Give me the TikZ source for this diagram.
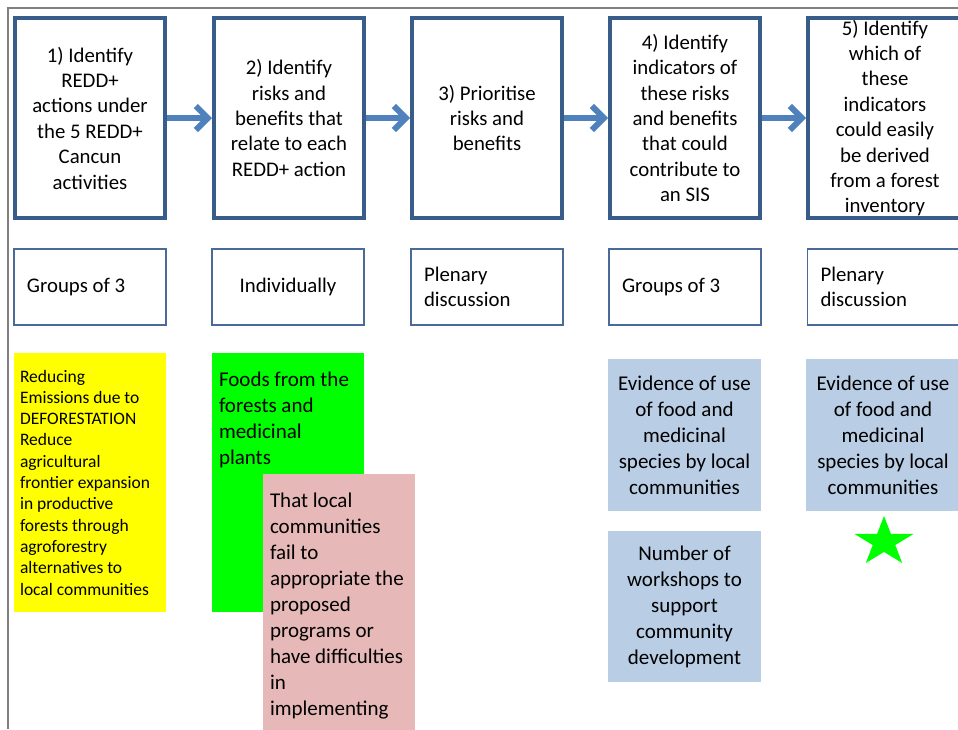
\documentclass[tikz,border=0pt]{standalone}
\usepackage{fontspec}
\setmainfont{Carlito}
\newcommand*{\bodyfont}{\fontsize{20.8}{25.4}\selectfont}
\newcommand*{\cardfont}{\fontsize{21}{26}\selectfont}
\newcommand*{\smallfont}{\fontsize{17.5}{21.3}\selectfont}
\definecolor{B}{HTML}{385D8A}
\definecolor{L}{HTML}{4F81BD}
\definecolor{M}{HTML}{4A6A9C}
\definecolor{F}{HTML}{808080}
\definecolor{Y}{HTML}{FFFF00}
\definecolor{G}{HTML}{00FF00}
\definecolor{P}{HTML}{E6B9B8}
\definecolor{S}{HTML}{B9CDE5}
\usetikzlibrary{arrows.meta}
\usetikzlibrary{positioning}
\tikzstyle{base}=[x=1pt, y=-1pt]
\tikzstyle{stage}=[draw=B, line width=4pt, minimum width=150pt, minimum height=200pt, inner sep=0pt, align=center, font=\bodyfont]
\tikzstyle{mode}=[draw=M, line width=1.2pt, minimum width=152pt, minimum height=76pt, inner xsep=13pt, text width=126pt, align=flush left, font=\bodyfont]
\tikzstyle{card}=[minimum width=152pt, minimum height=259pt, inner sep=7pt, font=\cardfont]
\tikzstyle{ind}=[fill=S, minimum width=153pt, minimum height=152pt, align=center, font=\cardfont]
\tikzstyle{flow}=[L, line width=6pt, -{Straight Barb[length=12pt,width=24pt]}]

\begin{document}
\begin{tikzpicture}[base]
    \useasboundingbox (0,0) rectangle (958,729);
    \draw [F, line width=1.5pt] (8,729) -- (8,8) -- (960,8);

    \node [stage] (s1) at (90,118) {1) Identify\\REDD+\\actions under\\the 5 REDD+\\Cancun\\activities};
    \node [stage] (s2) at (289,118) {2) Identify\\risks and\\benefits that\\relate to each\\REDD+ action};
    \node [stage] (s3) at (487,118) {3) Prioritise\\risks and\\benefits};
    \node [stage] (s4) at (685,118) {4) Identify\\indicators of\\these risks\\and benefits\\that could\\contribute to\\an SIS};
    \node [stage, minimum width=154pt] (s5) at (885,118) {5) Identify\\which of\\these\\indicators\\could easily\\be derived\\from a forest\\inventory};
    \foreach \a/\b in {s1/s2,s2/s3,s3/s4,s4/s5}
        \draw [flow] (\a) -- (\b);

    \node [mode] (m1) at (90,287) {Groups of 3};
    \node [mode, align=center] (m2) at (288,287) {Individually};
    \node [mode] (m3) at (487,287) {Plenary\\discussion};
    \node [mode] (m4) at (685,287) {Groups of 3};
    \node [mode] (m5) at (883.5,287) {Plenary\\discussion};

    \node [card, fill=Y, inner xsep=6pt, text width=140pt, align=flush left, font=\smallfont] (reduce) at (90,482.5) {Reducing\\Emissions due to\\DEFORESTATION\\Reduce\\agricultural\\frontier expansion\\in productive\\forests through\\agroforestry\\alternatives to\\local communities};
    \node [card, fill=G] (foods) at (288,482.5) {\parbox[c][245pt][t]{138pt}{\raggedright\vspace*{12pt}Foods from the\\forests and\\medicinal\\plants}};
    \node [card, fill=P] (fail) at (339,603.5) {\parbox[c][245pt][t]{138pt}{\raggedright\vspace*{12pt}That local\\communities\\fail to\\appropriate the\\proposed\\programs or\\have difficulties\\in\\implementing}};

    \node [ind] (use4) at (684.5,435) {Evidence of use\\of food and\\medicinal\\species by local\\communities};
    \node [ind, minimum height=151pt] (work) at (684.5,606.5) {Number of\\workshops to\\support\\community\\development};
    \node [ind, minimum width=154pt] (use5) at (883,435) {Evidence of use\\of food and\\medicinal\\species by local\\communities};

    \fill [G, shift={(884,542)}] (-90:31 and 26)
        \foreach \k in {0,...,4} {-- ({-54+72*\k}:11.84 and 9.93) -- ({-18+72*\k}:31 and 26)} -- cycle;
\end{tikzpicture}
\end{document}
